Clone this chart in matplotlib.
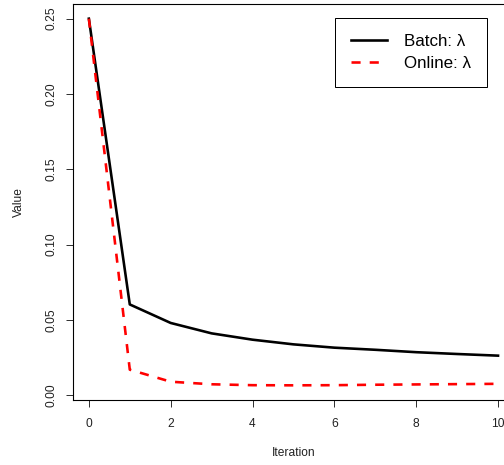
import matplotlib
matplotlib.use('Agg')
import matplotlib.pyplot as plt
import numpy as np

plt.rcParams['font.family'] = ['Liberation Sans', 'DejaVu Sans']

# values
iteration = [0, 1, 2, 3, 4, 5, 6, 7, 8, 9, 10]
batch_lambda = [0.25, 0.0603, 0.0480, 0.0411, 0.0369, 0.0338, 0.0316, 0.0302, 0.0286, 0.0274, 0.0263]
online_lambda = [0.25, 0.0170, 0.0090, 0.0073, 0.0067, 0.0066, 0.0067, 0.0070, 0.0072, 0.0074, 0.0076]
labels = ['Batch: λ', 'Online: λ']
y_ticks = [0.00, 0.05, 0.10, 0.15, 0.20, 0.25]
x_ticks = [0, 2, 4, 6, 8, 10]

W, H = 504, 465
fig = plt.figure(figsize=(W / 72, H / 72), dpi=72)
# axes box runs a bit past the right edge, like the reference
left, right, top, bottom = 72.5, 514.4, 4.0, 400.0
ax = fig.add_axes([left / W, (H - bottom) / H, (right - left) / W, (bottom - top) / H])

ax.plot(iteration, batch_lambda, color='black', lw=2.6, label=labels[0])
ax.plot(iteration, online_lambda, color='red', lw=2.6, dashes=(3.5, 3.5), label=labels[1])

# R-style 4% padding
xmin, xmax = min(iteration), max(iteration)
ymin = min(min(batch_lambda), min(online_lambda))
ymax = max(max(batch_lambda), max(online_lambda))
ax.set_xlim(xmin - 0.04 * (xmax - xmin), xmax + 0.04 * (xmax - xmin))
ax.set_ylim(ymin - 0.04 * (ymax - ymin), ymax + 0.04 * (ymax - ymin))

ax.set_xticks(x_ticks)
ax.set_xticklabels([str(t) for t in x_ticks])
ax.set_yticks(y_ticks)
ax.set_yticklabels(['%.2f' % t for t in y_ticks], rotation=90, va='center')
ax.tick_params(axis='both', length=7, width=1, labelsize=12, color='#333333', labelcolor='#222222')
ax.tick_params(axis='x', pad=11)
ax.tick_params(axis='y', pad=8)
for sp in ax.spines.values():
    sp.set_linewidth(1.1)
    sp.set_color('black')

ax.set_xlabel('Iteration', fontsize=12, color='#222222')
ax.set_ylabel('Value', fontsize=12, color='#222222')
ax.xaxis.set_label_coords(0.5, -(453 - bottom) / (bottom - top))
ax.xaxis.label.set_va('center')
ax.yaxis.set_label_coords((19 - left) / (right - left), 0.5)
ax.yaxis.label.set_va('center')

leg = ax.legend(loc='upper right',
                bbox_to_anchor=((487 - left) / (right - left), (bottom - 18) / (bottom - top)),
                borderaxespad=0, fontsize=17, handlelength=2.1, handletextpad=1.0,
                labelspacing=0.4, borderpad=0.95, fancybox=False, framealpha=1)
leg.get_frame().set_edgecolor('black')
leg.get_frame().set_linewidth(1.0)

fig.savefig('out.png', dpi=72)
